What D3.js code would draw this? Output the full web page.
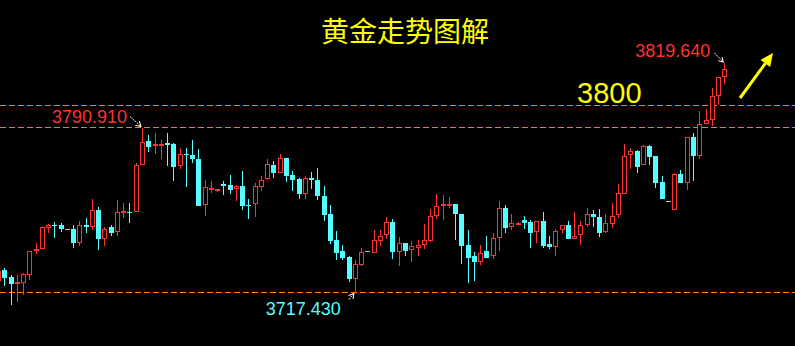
<!DOCTYPE html>
<html lang="zh">
<head>
    <meta charset="UTF-8">
    <title>黄金走势图解</title>
    <style>
        body { margin: 0; background: #000; }
        svg { display: block; }
    </style>
</head>
<body>
    <div class="container"></div>
    <script src="https://cdn.jsdelivr.net/npm/d3@7/dist/d3.min.js"></script>
    <script>
        // candle prices, oldest first (first one is cut off at the left edge)
        const opens = [3722.60,
            3727.36,3724.24,3721.26,3721.71,3725.27,3735.51,3736.58,3746.20,3747.71,3747.40,
            3745.49,3745.49,3739.52,3747.53,3746.38,3754.08,3741.30,3746.38,3744.15,3752.61,
            3753.19,3753.06,3773.99,3784.81,3782.45,3782.89,3783.92,3783.47,3773.36,3779.15,
            3778.57,3776.79,3756.00,3763.57,3762.23,3765.66,3765.21,3763.30,3764.77,3756.31,
            3756.62,3764.64,3767.75,3774.12,3770.69,3777.24,3769.67,3767.89,3761.34,3768.33,
            3767.44,3760.32,3752.30,3740.72,3735.82,3733.15,3723.49,3729.28,3735.69,3735.07,
            3740.50,3742.86,3748.74,3735.51,3739.39,3736.13,3737.29,3738.18,3740.59,3751.54,
            3756.00,3756.44,3756.75,3752.30,3738.49,3733.73,3731.06,3735.82,3733.28,3741.48,
            3754.97,3746.20,3747.98,3749.63,3748.74,3743.97,3749.18,3738.94,3737.92,3744.86,
            3747.40,3741.30,3743.26,3747.71,3752.61,3750.96,3743.97,3748.16,3751.72,3761.52,
            3778.44,3780.36,3773.99,3782.58,3778.13,3766.68,3758.40,3753.95,3770.11,3766.24,
            3786.59,3777.82,3792.25,3794.03,3804.72,3813.18]
        const highs = [3727.36,
            3728.25,3725.27,3725.13,3726.16,3736.13,3739.39,3746.82,3747.98,3748.74,3748.29,
            3745.49,3747.27,3749.05,3750.52,3758.98,3755.42,3746.82,3747.40,3758.53,3757.20,
            3757.20,3774.88,3790.91,3787.48,3788.24,3785.25,3788.24,3784.23,3781.56,3781.56,
            3785.25,3781.25,3767.75,3767.00,3763.43,3767.00,3769.67,3765.21,3771.45,3758.98,
            3766.24,3769.22,3776.79,3775.90,3778.89,3777.24,3771.32,3768.20,3769.22,3771.00,
            3772.79,3764.77,3756.31,3744.73,3738.49,3733.60,3731.81,3737.16,3735.69,3745.17,
            3745.17,3750.96,3750.07,3741.97,3739.39,3740.28,3740.72,3747.85,3754.53,3761.21,
            3760.76,3760.18,3757.06,3752.61,3745.17,3735.51,3738.49,3742.50,3743.84,3758.09,
            3756.31,3752.30,3748.74,3751.41,3749.63,3749.05,3753.19,3742.50,3745.49,3747.27,
            3749.18,3753.50,3749.18,3754.84,3753.95,3754.53,3752.61,3757.20,3765.53,3783.34,
            3781.56,3780.80,3783.03,3783.16,3778.13,3769.22,3758.40,3770.87,3771.89,3786.90,
            3788.37,3798.17,3799.06,3808.41,3813.62,3819.64]
        const lows = [3722.02,
            3720.37,3711.77,3713.24,3716.23,3722.91,3734.49,3736.58,3743.97,3741.75,3744.42,
            3745.49,3737.29,3738.18,3744.15,3745.31,3736.27,3738.05,3742.64,3742.81,3750.83,
            3748.43,3753.06,3773.99,3780.04,3779.33,3777.02,3773.81,3767.13,3772.21,3764.46,
            3775.32,3756.00,3751.54,3761.79,3762.10,3760.76,3761.21,3758.22,3754.39,3750.07,
            3751.10,3762.68,3767.75,3768.47,3770.69,3766.68,3762.68,3759.11,3759.11,3763.30,
            3758.53,3749.32,3739.07,3731.95,3731.95,3722.15,3717.43,3729.28,3735.69,3735.07,
            3738.14,3741.17,3732.39,3729.23,3733.73,3730.92,3733.73,3737.02,3739.70,3750.38,
            3749.76,3754.84,3741.03,3730.17,3721.71,3722.60,3729.59,3732.84,3732.13,3735.82,
            3743.97,3745.17,3747.85,3745.62,3737.29,3739.52,3737.29,3737.02,3733.73,3743.97,
            3741.30,3741.30,3738.63,3746.64,3746.64,3742.19,3743.97,3746.20,3750.83,3761.52,
            3772.65,3770.87,3773.99,3774.12,3764.01,3759.11,3758.40,3753.95,3766.24,3763.12,
            3767.13,3776.93,3792.25,3791.49,3800.71,3810.50]
        const closes = [3727.05,
            3723.93,3721.13,3722.15,3725.58,3735.82,3736.58,3746.38,3747.40,3747.27,3745.75,
            3745.49,3739.52,3747.40,3746.82,3753.95,3741.17,3745.93,3743.97,3753.06,3753.64,
            3752.75,3773.99,3784.23,3782.27,3783.34,3783.78,3783.16,3773.36,3778.89,3778.71,
            3776.93,3756.00,3764.19,3764.01,3763.30,3764.90,3763.12,3764.77,3756.00,3755.86,
            3764.77,3767.75,3774.57,3770.69,3777.24,3769.36,3767.57,3761.34,3768.64,3767.57,
            3760.54,3751.99,3740.41,3735.07,3732.84,3723.35,3730.03,3735.29,3735.69,3740.72,
            3742.81,3748.65,3735.51,3739.30,3735.96,3737.92,3738.49,3740.59,3751.72,3756.17,
            3756.62,3756.89,3752.43,3738.18,3732.84,3731.06,3735.24,3732.84,3741.48,3754.84,
            3746.20,3748.16,3748.60,3748.43,3743.97,3749.05,3738.18,3737.74,3745.04,3747.27,
            3741.30,3742.81,3747.71,3752.61,3751.10,3743.97,3748.16,3751.72,3761.52,3778.44,
            3780.36,3773.36,3782.45,3777.82,3766.24,3759.11,3758.40,3770.11,3766.24,3786.59,
            3778.26,3792.25,3794.03,3804.72,3813.18,3816.74]

        // dashed levels and marked prices
        const levels = [3800.6, 3790.91, 3717.43]
        const levelLabel = "3800"
        const title = "黄金走势图解"

        const width = 795
        const height = 346

        const red = "#ff3232"
        const cyan = "#54ffff"
        const orange = "#ff7f00"

        const n = closes.length
        const svg = d3.select('.container').append("svg")
            .attr("width", width)
            .attr("height", height)
            .style("background", "#000")

        const xScale = d3.scaleLinear()
            .domain([0, n - 1])
            .range([-2, 724.3])

        const yScale = d3.scaleLinear()
            .domain([3717.43, 3790.91])
            .range([292.5, 127.5])

        const px = i => Math.round(xScale(i))

        // level lines
        svg.append("g").attr("class", "levels")
            .attr("shape-rendering", "crispEdges")
            .selectAll("line")
            .data(levels)
            .join("line")
            .attr("x1", 0)
            .attr("x2", width)
            .attr("y1", d => Math.floor(yScale(d)) + 0.5)
            .attr("y2", d => Math.floor(yScale(d)) + 0.5)
            .attr("stroke", orange)
            .attr("stroke-width", 1)
            .attr("stroke-dasharray", "6,3")

        // candles
        const candles = svg.append("g").attr("class", "candles")
            .attr("shape-rendering", "crispEdges")
            .selectAll("g")
            .data(d3.range(n))
            .join("g")

        const colorOf = i => closes[i] > opens[i] ? red : closes[i] < opens[i] ? cyan : "#c0c0c0"

        candles.append("line")
            .attr("x1", i => px(i) + 0.5)
            .attr("x2", i => px(i) + 0.5)
            .attr("y1", i => yScale(highs[i]))
            .attr("y2", i => yScale(lows[i]))
            .attr("stroke", colorOf)
            .attr("stroke-width", 1)

        candles.filter(i => closes[i] < opens[i])
            .append("rect")
            .attr("x", i => px(i) - 2)
            .attr("width", 5)
            .attr("y", i => yScale(opens[i]))
            .attr("height", i => Math.max(1, yScale(closes[i]) - yScale(opens[i])))
            .attr("fill", cyan)

        candles.filter(i => closes[i] > opens[i])
            .append("rect")
            .attr("x", i => px(i) - 1.5)
            .attr("width", 4)
            .attr("y", i => Math.round(yScale(closes[i])) + 0.5)
            .attr("height", i => Math.max(1, Math.round(yScale(opens[i]) - yScale(closes[i])) - 1))
            .attr("fill", "#000")
            .attr("stroke", red)
            .attr("stroke-width", 1)

        candles.filter(i => closes[i] === opens[i])
            .append("line")
            .attr("x1", i => px(i) - 2)
            .attr("x2", i => px(i) + 3)
            .attr("y1", i => Math.round(yScale(opens[i])) + 0.5)
            .attr("y2", i => Math.round(yScale(opens[i])) + 0.5)
            .attr("stroke", "#c0c0c0")

        // price marks with small white arrows
        const hiIdx = 23, lowIdx = 57, lastIdx = n - 1
        const marks = [
            { i: hiIdx, p: highs[hiIdx], color: red, dx: -15, dy: -5, from: [-12, -11], to: [-1, -1] },
            { i: lastIdx, p: highs[lastIdx], color: red, dx: -14, dy: -6, from: [-10, -10], to: [-1, -1] },
            { i: lowIdx, p: lows[lowIdx], color: cyan, dx: -14, dy: 22, from: [-6, 7], to: [-1, 1] }
        ]

        svg.append("defs").append("marker")
            .attr("id", "wh")
            .attr("viewBox", "0 0 6 6")
            .attr("refX", 5).attr("refY", 3)
            .attr("markerWidth", 6).attr("markerHeight", 6)
            .attr("markerUnits", "userSpaceOnUse")
            .attr("orient", "auto")
            .append("path")
            .attr("d", "M0,0L5,3L0,6")
            .attr("fill", "none")
            .attr("stroke", "#fff")

        const markG = svg.append("g").attr("class", "marks")
        marks.forEach(m => {
            const x = xScale(m.i), y = yScale(m.p)
            markG.append("text")
                .attr("x", x + m.dx)
                .attr("y", y + m.dy)
                .attr("text-anchor", "end")
                .attr("fill", m.color)
                .attr("font-family", "'Liberation Sans', Arial, sans-serif")
                .attr("font-size", 18)
                .text(m.p.toFixed(3))
            markG.append("line")
                .attr("x1", x + m.from[0]).attr("y1", y + m.from[1])
                .attr("x2", x + m.to[0]).attr("y2", y + m.to[1])
                .attr("stroke", "#fff")
                .attr("stroke-width", 1)
                .attr("stroke-dasharray", "2,1")
                .attr("marker-end", "url(#wh)")
        })

        // 3800 label
        svg.append("text")
            .attr("x", 577)
            .attr("y", yScale(levels[0]) - 3)
            .attr("fill", "#ffff00")
            .attr("font-family", "'Liberation Sans', Arial, sans-serif")
            .attr("font-size", 29)
            .text(levelLabel)

        // title
        svg.append("text")
            .attr("x", 405)
            .attr("y", 42)
            .attr("text-anchor", "middle")
            .attr("fill", "#ffff00")
            .attr("font-family", "'Noto Sans CJK SC', sans-serif")
            .attr("font-size", 28)
            .text(title)

        // yellow trend arrow
        const tail = [740, 98], tip = [773, 53]
        const len = Math.hypot(tip[0] - tail[0], tip[1] - tail[1])
        const ux = (tip[0] - tail[0]) / len, uy = (tip[1] - tail[1]) / len
        const bx = tip[0] - ux * 13, by = tip[1] - uy * 13
        svg.append("line")
            .attr("x1", tail[0]).attr("y1", tail[1])
            .attr("x2", bx).attr("y2", by)
            .attr("stroke", "#ffff00")
            .attr("stroke-width", 3)
        svg.append("path")
            .attr("d", `M${tip[0]},${tip[1]}L${bx - uy * 6},${by + ux * 6}L${bx + uy * 6},${by - ux * 6}Z`)
            .attr("fill", "#ffff00")
    </script>
</body>
</html>
